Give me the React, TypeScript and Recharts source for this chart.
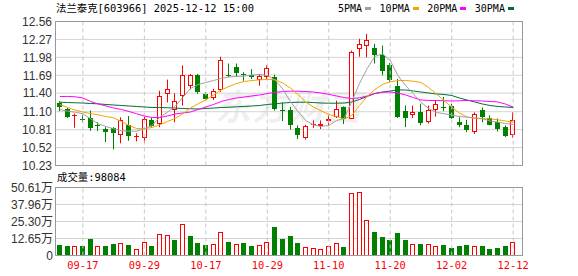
import React from "react";
import {
  Bar,
  CartesianGrid,
  ComposedChart,
  Line,
  ReferenceLine,
  XAxis,
  YAxis,
} from "recharts";

// trading days shown, Sep 12 .. Dec 12 2025
const dates = [
  "09-12", "09-15", "09-16", "09-17", "09-18", "09-19", "09-22", "09-23", "09-24", "09-25",
  "09-26", "09-29", "09-30", "10-09", "10-10", "10-13", "10-14", "10-15", "10-16", "10-17",
  "10-20", "10-21", "10-22", "10-23", "10-24", "10-27", "10-28", "10-29", "10-30", "10-31",
  "11-03", "11-04", "11-05", "11-06", "11-07", "11-10", "11-11", "11-12", "11-13", "11-14",
  "11-17", "11-18", "11-19", "11-20", "11-21", "11-24", "11-25", "11-26", "11-27", "11-28",
  "12-01", "12-02", "12-03", "12-04", "12-05", "12-08", "12-09", "12-10", "12-11", "12-12",
];

const opens = [
  11.24, 11.14, 11.04, 10.99, 11.0, 10.885, 10.82, 10.83, 10.73, 10.89,
  10.7, 10.68, 10.97, 10.9, 11.38, 11.13, 11.35, 11.51, 11.69, 11.38,
  11.32, 11.455, 11.7, 11.83, 11.71, 11.7, 11.62, 11.67, 11.66, 11.13,
  11.12, 10.84, 10.68, 10.885, 10.88, 10.95, 11.02, 11.17, 10.99, 12.12,
  12.16, 12.135, 12.01, 11.85, 11.51, 11.11, 11.055, 11.1, 10.93, 11.13,
  11.18, 11.2, 10.94, 10.89, 10.77, 11.12, 11.0, 10.94, 10.86, 10.72,
];
const highs = [
  11.27, 11.16, 11.07, 11.05, 11.12, 10.93, 10.85, 10.85, 11.01, 11.03,
  10.75, 11.02, 11.0, 11.44, 11.62, 11.4, 11.85, 11.71, 11.71, 11.42,
  11.47, 11.99, 11.88, 11.88, 11.74, 11.79, 11.71, 11.85, 11.7, 11.25,
  11.18, 10.88, 10.89, 10.96, 10.96, 11.05, 11.28, 11.185, 12.09, 12.28,
  12.36, 12.2, 12.17, 11.89, 11.63, 11.2, 11.2, 11.23, 11.2, 11.28,
  11.34, 11.23, 11.01, 10.97, 11.09, 11.17, 11.04, 10.99, 10.88, 11.09,
];
const lows = [
  11.11, 11.0, 10.84, 10.93, 10.79, 10.79, 10.61, 10.49, 10.59, 10.63,
  10.62, 10.59, 10.85, 10.85, 11.25, 10.93, 11.2, 11.46, 11.39, 11.29,
  11.29, 11.42, 11.66, 11.67, 11.6, 11.63, 11.52, 11.63, 11.12, 10.95,
  10.81, 10.66, 10.65, 10.84, 10.82, 10.88, 11.0, 10.9, 10.98, 11.99,
  11.98, 11.88, 11.69, 11.58, 11.0, 10.85, 11.0, 10.88, 10.91, 11.02,
  11.11, 10.985, 10.85, 10.77, 10.74, 10.93, 10.88, 10.78, 10.69, 10.68,
];
const closes = [
  11.17, 11.01, 11.05, 10.98, 10.83, 10.875, 10.77, 10.755, 10.97, 10.7,
  10.71, 10.99, 10.87, 11.36, 11.47, 11.28, 11.7, 11.69, 11.42, 11.31,
  11.43, 11.94, 11.69, 11.73, 11.7, 11.67, 11.68, 11.81, 11.15, 11.12,
  10.89, 10.72, 10.87, 10.895, 10.905, 10.975, 11.14, 10.985, 12.06, 12.2,
  12.26, 12.01, 11.76, 11.62, 11.02, 11.0, 11.09, 10.91, 11.12, 11.22,
  11.17, 11.0, 10.89, 10.81, 11.07, 11.02, 10.89, 10.82, 10.7, 10.97,
];

// volume, 万手
const volumes = [
  8.15, 7.4, 7.4, 7.4, 12.6, 7.4, 7.4, 8.9, 9.4, 7.9,
  4.9, 10.1, 6.7, 16.0, 15.3, 11.9, 23.5, 14.8, 9.6, 8.15,
  8.6, 17.8, 10.4, 8.6, 9.4, 7.4, 7.9, 10.1, 21.5, 12.1,
  14.8, 9.6, 6.4, 5.9, 4.9, 6.7, 9.4, 6.2, 46.4, 47.4,
  26.7, 17.8, 14.1, 11.9, 17.0, 11.9, 8.6, 8.9, 8.6, 7.2,
  8.15, 5.9, 6.7, 8.15, 7.4, 6.7, 5.2, 5.9, 6.7, 9.81,
];

const ma5 = [
  11.136, 11.109, 11.093, 11.067, 10.986, 10.905, 10.861, 10.824, 10.796, 10.785,
  10.785, 10.824, 10.877, 11.012, 11.093, 11.185, 11.33, 11.476, 11.541, 11.573,
  11.605, 11.638, 11.662, 11.67, 11.678, 11.694, 11.703, 11.686, 11.614, 11.471,
  11.266, 11.104, 10.958, 10.886, 10.861, 10.877, 10.958, 10.991, 11.266, 11.557,
  11.8, 11.994, 12.037, 11.929, 11.686, 11.525, 11.39, 11.254, 11.152, 11.088,
  11.067, 11.047, 11.023, 11.012, 11.002, 10.986, 10.95, 10.931, 10.91, 10.893,
];
const ma10 = [
  11.217, 11.169, 11.128, 11.096, 11.071, 11.05, 11.023, 11.002, 10.942, 10.877,
  10.829, 10.824, 10.845, 10.886, 10.942, 10.991, 11.067, 11.16, 11.228, 11.29,
  11.371, 11.452, 11.508, 11.557, 11.589, 11.605, 11.617, 11.622, 11.617, 11.565,
  11.484, 11.379, 11.258, 11.177, 11.115, 11.055, 11.023, 10.982, 11.039, 11.201,
  11.347, 11.46, 11.541, 11.584, 11.605, 11.605, 11.594, 11.573, 11.492, 11.39,
  11.282, 11.173, 11.08, 11.015, 10.991, 10.986, 10.986, 10.97, 10.95, 10.931,
];
const ma20 = [
  11.347, 11.347, 11.342, 11.322, 11.266, 11.225, 11.193, 11.16, 11.136, 11.104,
  11.067, 11.031, 11.007, 11.007, 11.031, 11.063, 11.08, 11.096, 11.136, 11.177,
  11.217, 11.266, 11.298, 11.322, 11.338, 11.355, 11.371, 11.395, 11.411, 11.427,
  11.432, 11.432, 11.427, 11.419, 11.403, 11.382, 11.355, 11.33, 11.314, 11.325,
  11.355, 11.395, 11.416, 11.419, 11.403, 11.371, 11.33, 11.29, 11.282, 11.282,
  11.277, 11.274, 11.277, 11.282, 11.277, 11.274, 11.266, 11.258, 11.225, 11.174,
];
const ma30 = [
  11.254, 11.249, 11.245, 11.241, 11.233, 11.228, 11.217, 11.209, 11.201, 11.193,
  11.185, 11.177, 11.169, 11.169, 11.164, 11.16, 11.152, 11.148, 11.144, 11.152,
  11.16, 11.169, 11.173, 11.18, 11.185, 11.193, 11.201, 11.217, 11.228, 11.241,
  11.249, 11.254, 11.254, 11.249, 11.241, 11.238, 11.238, 11.241, 11.258, 11.298,
  11.347, 11.395, 11.419, 11.436, 11.452, 11.452, 11.436, 11.419, 11.403, 11.387,
  11.379, 11.363, 11.322, 11.29, 11.258, 11.225, 11.201, 11.185, 11.177, 11.169,
];

const labelDates = ["09-17", "09-29", "10-17", "10-29", "11-10", "11-20", "12-02", "12-12"];
const priceTicks = [10.23, 10.52, 10.81, 11.1, 11.4, 11.69, 11.98, 12.27, 12.56];
const volTicks = [0, 12.65, 25.3, 37.96, 50.61];

const RED = "#ff0000";
const GREEN = "#008000";
const MA_COLORS = { ma5: "#a0a0a0", ma10: "#f4a300", ma20: "#ff00ff", ma30: "#006f35" };
const TXT_FONT = "'DejaVu Sans Mono', 'Noto Sans CJK SC', monospace";
const AXIS_FONT = "'Liberation Sans', Arial, 'Noto Sans CJK SC', sans-serif";

const rows = dates.map((date, i) => ({
  date,
  open: opens[i],
  high: highs[i],
  low: lows[i],
  close: closes[i],
  range: [lows[i], highs[i]],
  vol: volumes[i],
  // volume colour follows close vs previous close
  volUp: i > 0 && closes[i] >= closes[i - 1],
  ma5: ma5[i],
  ma10: ma10[i],
  ma20: ma20[i],
  ma30: ma30[i],
}));

const labelSet = new Set(labelDates);
const AXIS_PAD = { left: 1, right: 5 };

/** Candle drawn inside the [low, high] range bar: the bar's own pixel
 *  span gives the scale for placing open / close. */
function Candle(props: any) {
  const { x = 0, y = 0, width = 0, height = 0, payload } = props;
  if (!payload) return null;
  const { open, close, high, low } = payload;
  const top = Math.min(y, y + height);
  const h = Math.abs(height);
  const k = high > low ? h / (high - low) : 0;
  const py = (v: number) => top + (high - v) * k;
  const bx = Math.round(x + width / 2 - 2.5);
  const cx = bx + 2.5;
  const up = close >= open;
  const color = up ? RED : GREEN;
  const bTop = py(Math.max(open, close));
  const bBot = py(Math.min(open, close));
  const hiY = py(high);
  const loY = py(low);

  if (bBot - bTop < 1.2) {
    const yy = Math.round(bTop) + 0.5;
    return (
      <g>
        <line x1={cx} x2={cx} y1={hiY} y2={loY} stroke={color} />
        <line x1={bx} x2={bx + 5} y1={yy} y2={yy} stroke={color} />
      </g>
    );
  }
  if (up) {
    const t = Math.round(bTop) + 0.5;
    const b = Math.round(bBot) - 0.5;
    return (
      <g>
        <line x1={cx} x2={cx} y1={hiY} y2={t} stroke={color} />
        <line x1={cx} x2={cx} y1={b} y2={loY} stroke={color} />
        <rect x={bx + 0.5} y={t} width={4} height={Math.max(b - t, 1)} fill="#fff" stroke={color} />
      </g>
    );
  }
  return (
    <g>
      <line x1={cx} x2={cx} y1={hiY} y2={loY} stroke={color} />
      <rect x={bx} y={Math.round(bTop)} width={5} height={Math.max(Math.round(bBot) - Math.round(bTop), 1)} fill={color} />
    </g>
  );
}

function VolBar(props: any) {
  const { x = 0, y = 0, width = 0, height = 0, payload } = props;
  if (!payload) return null;
  const top = Math.round(Math.min(y, y + height));
  const bot = Math.round(Math.max(y, y + height));
  const bx = Math.round(x + width / 2 - 2.5);
  if (payload.volUp) {
    return (
      <rect x={bx + 0.5} y={top + 0.5} width={4} height={Math.max(bot - top - 1, 1)} fill="#fff" stroke={RED} />
    );
  }
  return <rect x={bx} y={top} width={5} height={bot - top} fill={GREEN} />;
}

function DateTick(props: any) {
  const { x, y, payload } = props;
  if (!labelSet.has(payload?.value)) return null;
  return (
    <text x={x} y={y} dy="0.71em" textAnchor="middle" fontSize={10.4} fontFamily={TXT_FONT} fill={RED}>
      {payload.value}
    </text>
  );
}

const frame = (top: number, height: number): React.CSSProperties => ({
  position: "absolute",
  left: 55,
  top,
  width: 468,
  height,
  border: "1px solid #999",
  boxSizing: "border-box",
  pointerEvents: "none",
});

const legendItems = [
  { label: "5PMA", key: "ma5" },
  { label: "10PMA", key: "ma10" },
  { label: "20PMA", key: "ma20" },
  { label: "30PMA", key: "ma30" },
] as const;

export default function App() {
  return (
    <div
      style={{
        position: "absolute",
        left: 0,
        top: 0,
        width: 578,
        height: 276,
        background: "#fff",
        overflow: "hidden",
      }}
    >
      {/* faint watermark */}
      <div
        style={{
          position: "absolute",
          left: 215,
          top: 78,
          fontSize: 36,
          fontWeight: 700,
          fontStyle: "italic",
          fontFamily: "'Noto Sans CJK SC', sans-serif",
          color: "rgba(0,0,0,0.07)",
          letterSpacing: 1,
          whiteSpace: "nowrap",
        }}
      >
        东方财富
      </div>

      <div
        style={{
          position: "absolute",
          left: 56,
          top: 2,
          fontSize: 10.4,
          lineHeight: "13px",
          fontFamily: TXT_FONT,
          color: "#000",
          whiteSpace: "nowrap",
        }}
      >
        法兰泰克[603966] 2025-12-12 15:00
      </div>

      <div
        style={{
          position: "absolute",
          left: 338,
          top: 2,
          display: "flex",
          alignItems: "center",
          fontSize: 10,
          lineHeight: "13px",
          fontFamily: TXT_FONT,
          color: "#000",
          whiteSpace: "nowrap",
        }}
      >
        {legendItems.map((it) => (
          <span key={it.key} style={{ display: "flex", alignItems: "center", marginRight: 8.5 }}>
            {it.label}
            <span
              style={{
                display: "inline-block",
                width: 6,
                height: 3,
                marginLeft: 3,
                background: MA_COLORS[it.key],
              }}
            />
          </span>
        ))}
      </div>

      <div style={{ position: "absolute", left: 0, top: 0 }}>
        <ComposedChart
          width={578}
          height={176}
          data={rows}
          margin={{ top: 21.5, right: 56, left: 0, bottom: 10.5 }}
        >
          <CartesianGrid vertical={false} stroke="#d4d4d4" />
          <XAxis dataKey="date" hide padding={AXIS_PAD} />
          <YAxis
            domain={[10.23, 12.56]}
            ticks={priceTicks}
            interval={0}
            allowDataOverflow
            width={55}
            axisLine={false}
            tickLine={false}
            tickSize={0}
            tickMargin={3}
            tickFormatter={(v: number) => v.toFixed(2)}
            tick={{ fontSize: 12, fontFamily: AXIS_FONT, fill: "#333" }}
          />
          {labelDates.map((d) => (
            <ReferenceLine key={d} x={d} stroke="#c8c8c8" strokeDasharray="4 3" />
          ))}
          <Bar dataKey="range" barSize={5} shape={<Candle />} isAnimationActive={false} />
          <Line dataKey="ma30" stroke={MA_COLORS.ma30} strokeWidth={1} dot={false} isAnimationActive={false} />
          <Line dataKey="ma20" stroke={MA_COLORS.ma20} strokeWidth={1} dot={false} isAnimationActive={false} />
          <Line dataKey="ma10" stroke={MA_COLORS.ma10} strokeWidth={1} dot={false} isAnimationActive={false} />
          <Line dataKey="ma5" stroke={MA_COLORS.ma5} strokeWidth={1} dot={false} isAnimationActive={false} />
        </ComposedChart>
      </div>
      <div style={frame(21, 145)} />

      <div
        style={{
          position: "absolute",
          left: 57,
          top: 171,
          fontSize: 10.4,
          lineHeight: "13px",
          fontFamily: TXT_FONT,
          color: "#000",
          whiteSpace: "nowrap",
        }}
      >
        成交量:98084
      </div>

      <div style={{ position: "absolute", left: 0, top: 0 }}>
        <ComposedChart
          width={578}
          height={276}
          data={rows}
          margin={{ top: 187.5, right: 56, left: 0, bottom: 0 }}
        >
          <CartesianGrid vertical={false} stroke="#d4d4d4" />
          <XAxis
            dataKey="date"
            padding={AXIS_PAD}
            interval={0}
            height={20.5}
            axisLine={false}
            tickLine={false}
            tickSize={4}
            tickMargin={2}
            tick={<DateTick />}
          />
          <YAxis
            domain={[0, 50.61]}
            ticks={volTicks}
            interval={0}
            allowDataOverflow
            width={55}
            axisLine={false}
            tickLine={false}
            tickSize={0}
            tickMargin={2}
            tickFormatter={(v: number) => (v === 0 ? "0" : `${v.toFixed(2)}万`)}
            tick={{ fontSize: 12, fontFamily: AXIS_FONT, fill: "#333" }}
          />
          {labelDates.map((d) => (
            <ReferenceLine key={d} x={d} stroke="#c8c8c8" strokeDasharray="4 3" />
          ))}
          <Bar dataKey="vol" barSize={5} shape={<VolBar />} isAnimationActive={false} />
        </ComposedChart>
      </div>
      <div style={frame(187, 69)} />
    </div>
  );
}
